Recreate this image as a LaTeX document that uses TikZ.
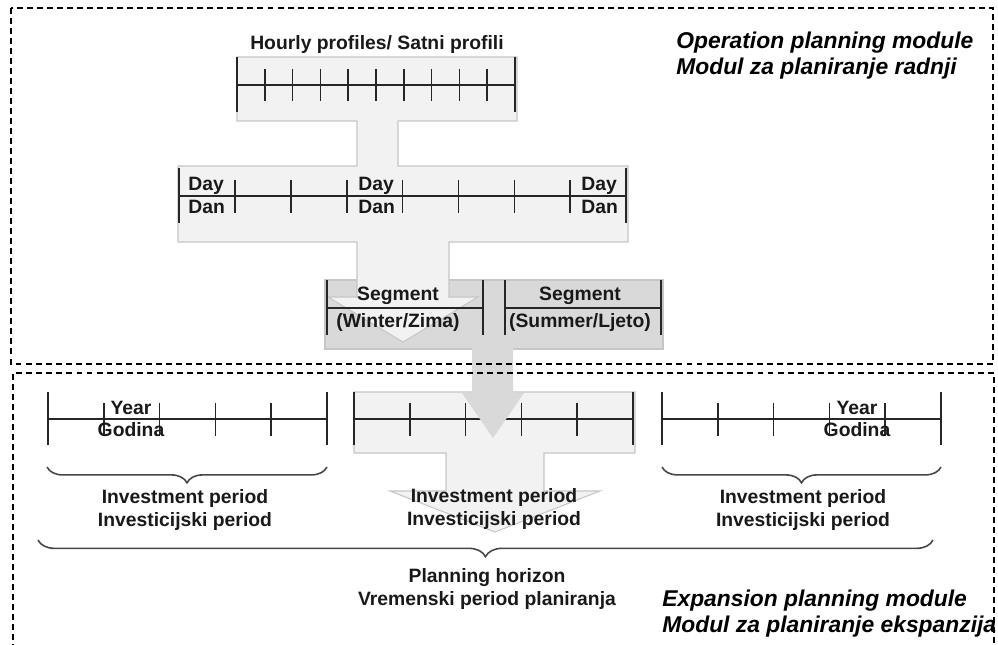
\documentclass[tikz,border=0pt]{standalone}
\usepackage{fontspec}
\setmainfont{Liberation Sans}
\usetikzlibrary{decorations.pathreplacing}
\definecolor{boxfill}{RGB}{242,242,242}
\definecolor{boxline}{RGB}{198,198,198}
\definecolor{segfill}{RGB}{217,217,217}
\definecolor{tickc}{RGB}{38,38,38}

\begin{document}
\begin{tikzpicture}[x=0.02cm, y=-0.02cm,
  lbl/.style={font=\fontsize{11}{13.6}\selectfont\bfseries, inner sep=0pt, text=black!90},
  two/.style={lbl, align=center},
  mod/.style={font=\fontsize{13}{14.7}\selectfont\bfseries\itshape, inner sep=0pt, align=left, anchor=west},
  tl/.style={tickc, line width=1pt},
  brc/.style={decorate, decoration={brace, mirror, amplitude=#1}, tickc!85, line width=0.9pt},
  modbox/.style={dash pattern=on 3.4pt off 2.3pt, line width=0.8pt}]
\useasboundingbox (0,0) rectangle (998,645);
% operation planning part
\filldraw[fill=segfill, draw=boxline, line width=0.6pt] (325,280) rectangle (663,349);
\filldraw[fill=boxfill, draw=boxline, line width=0.6pt]
  (237,57) -- (517,57) -- (517,121) -- (398,121) -- (398,166) -- (628,166) -- (628,242)
  -- (449,242) -- (449,297) -- (478,297) -- (403,342) -- (328,297) -- (357,297) -- (357,242)
  -- (178,242) -- (178,166) -- (357,166) -- (357,121) -- (237,121) -- cycle;
\node[lbl] (hourly) at (377,45) {Hourly profiles/ Satni profili};
\draw[tl] (237,85) -- (515,85);
\foreach \x in {237,515} \draw[tl] (\x,57) -- (\x,112);
\foreach \i in {1,...,9} \draw[tl] ({237+27.8*\i},69) -- ({237+27.8*\i},101);
\draw[tl] (179,196) -- (626,196);
\foreach \x in {179,626} \draw[tl] (\x,168) -- (\x,223);
\foreach \i in {1,...,7} \draw[tl] ({179+55.9*\i},180) -- ({179+55.9*\i},213);
\foreach \x/\n in {188/a,358/b,581/c}{
  \node[lbl, anchor=base west] (day\n) at (\x,191) {Day};
  \node[lbl, anchor=base west] (dan\n) at (\x,214) {Dan};}
\draw[tl] (327,308) -- (483,308); \draw[tl] (505,308) -- (661,308);
\foreach \x in {327,483,505,661} \draw[tl] (\x,280) -- (\x,335);
\node[lbl, anchor=base] (segw) at (398,301) {Segment};
\node[lbl, anchor=base] (winter) at (398,328) {(Winter/Zima)};
\node[lbl, anchor=base] (segs) at (580,301) {Segment};
\node[lbl, anchor=base] (summer) at (580,328) {(Summer/Ljeto)};
\node[mod] (opmod) at (676,56) {Operation planning module\\Modul za planiranje radnji};
% expansion planning part
\filldraw[fill=boxfill, draw=boxline, line width=0.6pt]
  (354,392) -- (635,392) -- (635,453) -- (544,453) -- (544,491) -- (600,491) -- (495,532)
  -- (390,491) -- (446,491) -- (446,453) -- (354,453) -- cycle;
\foreach \s in {48,354,662}{
  \draw[tl] (\s,419) -- ({\s+279},419);
  \foreach \x in {0,279} \draw[tl] ({\s+\x},392) -- ({\s+\x},445);
  \foreach \i in {1,...,4} \draw[tl] ({\s+55.8*\i},403) -- ({\s+55.8*\i},436);}
\fill[segfill] (472,348) -- (513,348) -- (513,393) -- (524,393) -- (493,438) -- (462,393)
  -- (472,393) -- cycle;
\foreach \x/\n in {131/a,857/b}{
  \node[lbl, anchor=base] (year\n) at (\x,415) {Year};
  \node[lbl, anchor=base] (godina\n) at (\x,437) {Godina};}
\draw[brc=9pt] (47,467) -- (327,467);
\draw[brc=9pt] (662,467) -- (941,467);
\draw[brc=9.5pt] (38,540) -- (933,540);
\node[two] (inva) at (185,510) {Investment period\\Investicijski period};
\node[two] (invb) at (494,509) {Investment period\\Investicijski period};
\node[two] (invc) at (803,510) {Investment period\\Investicijski period};
\node[two] (horizon) at (487,589) {Planning horizon\\Vremenski period planiranja};
\node[mod] (exmod) at (662,614) {Expansion planning module\\Modul za planiranje ekspanzija};
% module frames
\draw[modbox] (11,8) rectangle (993,364);
\draw[modbox] (13,660) -- (13,373) -- (994,373) -- (994,660);
\end{tikzpicture}
\end{document}
